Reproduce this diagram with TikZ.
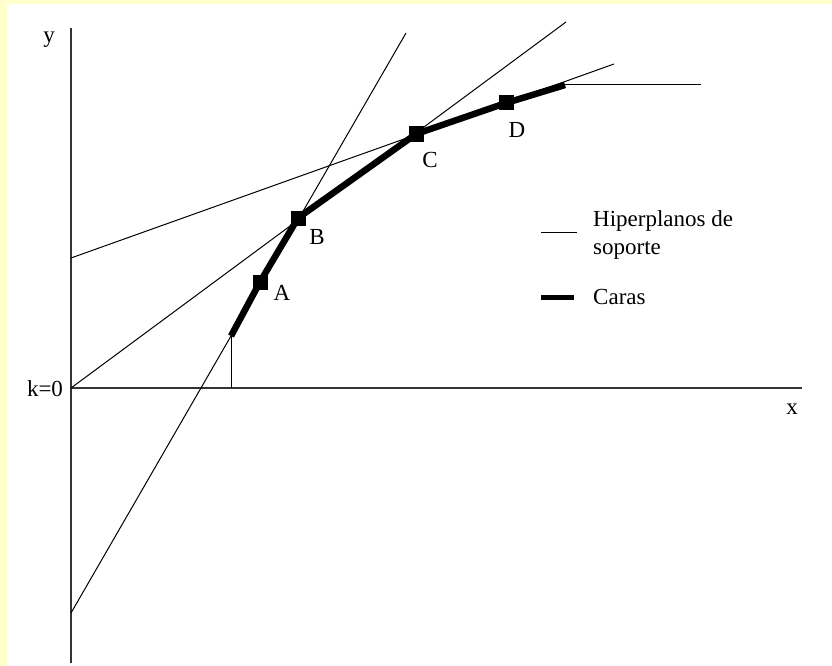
\documentclass[tikz,border=0pt]{standalone}
\usepackage{fontspec}
\setmainfont{Liberation Serif}
\usetikzlibrary{positioning}
\definecolor{paleyellow}{HTML}{FFFFCC}

\begin{document}
\begin{tikzpicture}[x=1pt, y=-1pt, font=\fontsize{23}{27}\selectfont,
  hyper/.style={line width=1pt},
  face/.style={line width=6.5pt},
  vertex/.style={fill, minimum size=15pt, inner sep=0pt},
  axis/.style={line width=1.5pt, black!80}]

  \useasboundingbox (0,0) rectangle (832,666);
  \fill[paleyellow] (0,0) rectangle (832,666);
  \fill[white] (7,4) rectangle (832,666);

  % axes
  \coordinate (o) at (71,388);
  \coordinate (ytop) at (71,28);
  \coordinate (ybot) at (71,663);
  \coordinate (xend) at (802,388);
  \draw[axis] (ytop) -- (ybot);
  \draw[axis] (o) -- (xend);
  \node (ylab) at (49,40) {y};
  \node (xlab) at (792,409) {x};
  \node (klab) at (45,389) {k=0};

  % vertices of the frontier
  \node[vertex] (A) at (260,282) {};
  \node[vertex] (B) at (298,218) {};
  \node[vertex] (C) at (416,134) {};
  \node[vertex] (D) at (506,103) {};
  \coordinate (f0) at (231,336);
  \coordinate (f0x) at (231,388);
  \coordinate (f1) at (565,85);
  \coordinate (f2) at (701,85);

  % supporting hyperplanes
  \coordinate (h1a) at (71,613);
  \coordinate (h1b) at (406,33);
  \coordinate (h2b) at (566,22);
  \coordinate (h3a) at (71,258);
  \coordinate (h3b) at (614,64);
  \draw[hyper] (h1a) -- (h1b);
  \draw[hyper] (o) -- (h2b);
  \draw[hyper] (h3a) -- (h3b);
  \draw[hyper] (f0x) -- (f0);
  \draw[hyper] (f1) -- (f2);

  % faces
  \draw[face] (f0) -- (A.center) -- (B.center) -- (C.center) -- (D.center) -- (f1);
  \node[vertex] at (A) {};
  \node[vertex] at (B) {};
  \node[vertex] at (C) {};
  \node[vertex] at (D) {};

  \node (alab) at (282,293) {A};
  \node (blab) at (317,237) {B};
  \node (clab) at (430,160) {C};
  \node (dlab) at (517,130) {D};

  % legend
  \coordinate (lg1a) at (541,232);
  \coordinate (lg1b) at (577,232);
  \coordinate (lg2a) at (541,297);
  \coordinate (lg2b) at (574,297);
  \draw[hyper] (lg1a) -- (lg1b);
  \draw[line width=5pt] (lg2a) -- (lg2b);
  \node[anchor=west, inner sep=3pt] (hip) at (590,221) {Hiperplanos de};
  \node[anchor=west, inner sep=3pt] (sop) at (590,250) {soporte};
  \node[anchor=west, inner sep=3pt] (car) at (590,297) {Caras};
\end{tikzpicture}
\end{document}
